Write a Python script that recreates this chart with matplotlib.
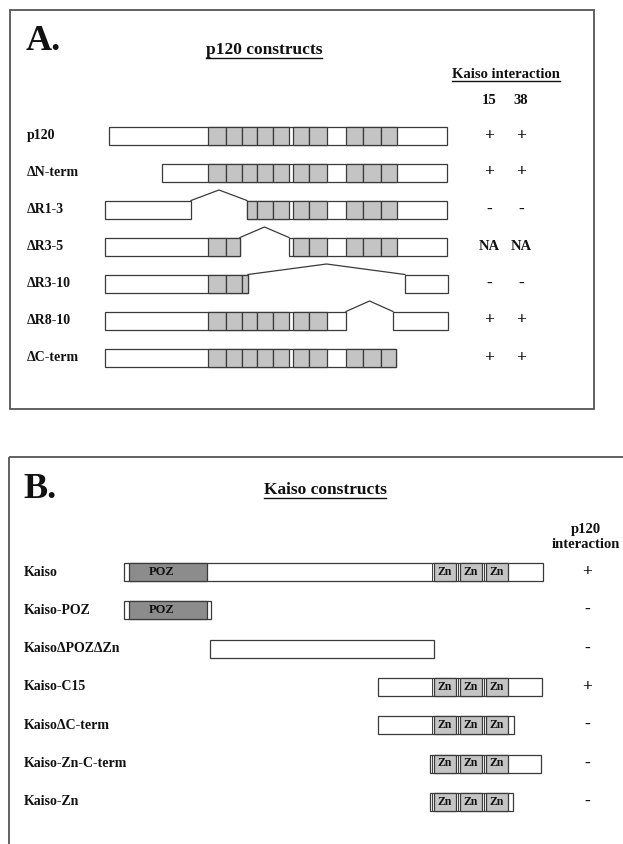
import matplotlib
matplotlib.use("Agg")
import matplotlib.pyplot as plt
from matplotlib.patches import Rectangle

# ---------------- data ----------------
# Panel A: p120 constructs (positions on a common horizontal map)
p120_names = ["p120", "ΔN-term", "ΔR1-3", "ΔR3-5", "ΔR3-10", "ΔR8-10", "ΔC-term"]
p120_segments = [
    [(109, 447)],
    [(162, 447)],
    [(105, 191), (247, 447)],
    [(105, 240), (289, 447)],
    [(105, 248), (405, 448)],
    [(105, 346), (393, 448)],
    [(105, 396)],
]
arm_repeats = [(208, 226), (226, 242), (242, 257), (257, 273), (273, 289),
               (293, 309), (309, 327), (346, 363), (363, 381), (381, 397)]
kaiso15 = ["+", "+", "-", "NA", "-", "+", "+"]
kaiso38 = ["+", "+", "-", "NA", "-", "+", "+"]
interaction_cols = ["15", "38"]

# Panel B: Kaiso constructs
kaiso_names = ["Kaiso", "Kaiso-POZ", "KaisoΔPOZΔZn", "Kaiso-C15",
               "KaisoΔC-term", "Kaiso-Zn-C-term", "Kaiso-Zn"]
kaiso_segments = [(124, 543), (124, 211), (210, 434), (378, 542),
                  (378, 514), (430, 541), (430, 513)]
poz_domain = (129, 207)
zn_fingers = [(434, 456), (460, 482), (486, 508)]
p120_interaction = ["+", "-", "-", "+", "-", "-", "-"]

# ---------------- layout / style ----------------
W, H = 623, 844
fig = plt.figure(figsize=(W / 100, H / 100), dpi=100)
ax = fig.add_axes([0, 0, 1, 1])
ax.set_xlim(0, W)
ax.set_ylim(H, 0)
ax.axis("off")

SERIF = ["Liberation Serif", "DejaVu Serif"]
EDGE = "#3a3a3a"
LIGHT = "#c4c4c4"
DARK = "#8c8c8c"
LW = 0.9
BAR_H = 18

rowsA = [135.5 + 37.0 * i for i in range(len(p120_names))]
rowsB = [572 + 38.3 * i for i in range(len(kaiso_names))]


def txt(x, y, s, size=10, ha="left", va="center", **kw):
    return ax.text(x, y, s, fontsize=size, fontweight="bold", family=SERIF,
                   ha=ha, va=va, color="#111111", **kw)


def box(x0, x1, yc, fc="white", z=2):
    ax.add_patch(Rectangle((x0, yc - BAR_H / 2), x1 - x0, BAR_H, facecolor=fc,
                           edgecolor=EDGE, lw=LW, zorder=z))


def sign(x, y, v):
    if v == "NA":
        txt(x, y, v, size=10.5, ha="center")
    else:
        txt(x, y, v, size=12.5, ha="center")


# frames
ax.add_patch(Rectangle((10, 10), 584, 399, fill=False, edgecolor="#555555", lw=1.3))
ax.add_patch(Rectangle((9, 457), 640, 420, fill=False, edgecolor="#555555", lw=1.3))

underlines = []

# ---------------- Panel A ----------------
txt(26, 42, "A.", size=26, va="center")
t = txt(264, 54, "p120 constructs", size=12.5, ha="center", va="baseline")
underlines.append((t, 57.5))
t = txt(506, 77.5, "Kaiso interaction", size=10.5, ha="center", va="baseline")
underlines.append((t, 80.5))
colx = [489, 521]
for cx, lab in zip(colx, interaction_cols):
    txt(cx, 100, lab, size=10.5, ha="center")

for yc, name, segs, a, b in zip(rowsA, p120_names, p120_segments, kaiso15, kaiso38):
    txt(27, yc, name, size=10)
    for (s0, s1) in segs:
        box(s0, s1, yc)
        for (r0, r1) in arm_repeats:
            lo, hi = max(r0, s0), min(r1, s1)
            if hi - lo > 5:
                box(lo, hi, yc, fc=LIGHT, z=3)
    # deletion carets
    for (sa, sb) in zip(segs[:-1], segs[1:]):
        xl, xr = sa[1], sb[0]
        top = yc - BAR_H / 2
        ax.plot([xl, (xl + xr) / 2, xr], [top, top - 10.5, top], color=EDGE, lw=LW)
    for cx, v in zip(colx, [a, b]):
        sign(cx, yc, v)

# ---------------- Panel B ----------------
txt(23, 489, "B.", size=26, va="center")
t = txt(325, 494.5, "Kaiso constructs", size=12.5, ha="center", va="baseline")
underlines.append((t, 497.5))
txt(586, 529, "p120", size=10.5, ha="center")
txt(586, 545, "interaction", size=10.5, ha="center")

for yc, name, (s0, s1), v in zip(rowsB, kaiso_names, kaiso_segments, p120_interaction):
    txt(24, yc, name, size=10)
    box(s0, s1, yc)
    lo, hi = max(poz_domain[0], s0), min(poz_domain[1], s1)
    if hi - lo > 2:
        box(lo, hi, yc, fc=DARK, z=3)
        txt((lo + hi) / 2 - 6, yc, "POZ", size=9, ha="center", zorder=5)
    for (z0, z1) in zn_fingers:
        if z0 >= s0 and z1 <= s1:
            box(z0, z1, yc, fc=LIGHT, z=3)
            ax.plot([z0 - 2, z0 - 2], [yc - BAR_H / 2, yc + BAR_H / 2], color=EDGE, lw=0.7, zorder=4)
            txt((z0 + z1) / 2, yc, "Zn", size=8.5, ha="center", zorder=5)
    sign(587, yc, v)

# underlines under titles
fig.canvas.draw()
inv = ax.transData.inverted()
for t, yline in underlines:
    bb = t.get_window_extent()
    (x0, _), (x1, _) = inv.transform([(bb.x0, bb.y0), (bb.x1, bb.y1)])
    ax.plot([x0, x1], [yline, yline], color="#111111", lw=1.0)

fig.savefig("out.png", dpi=100, facecolor="white")
